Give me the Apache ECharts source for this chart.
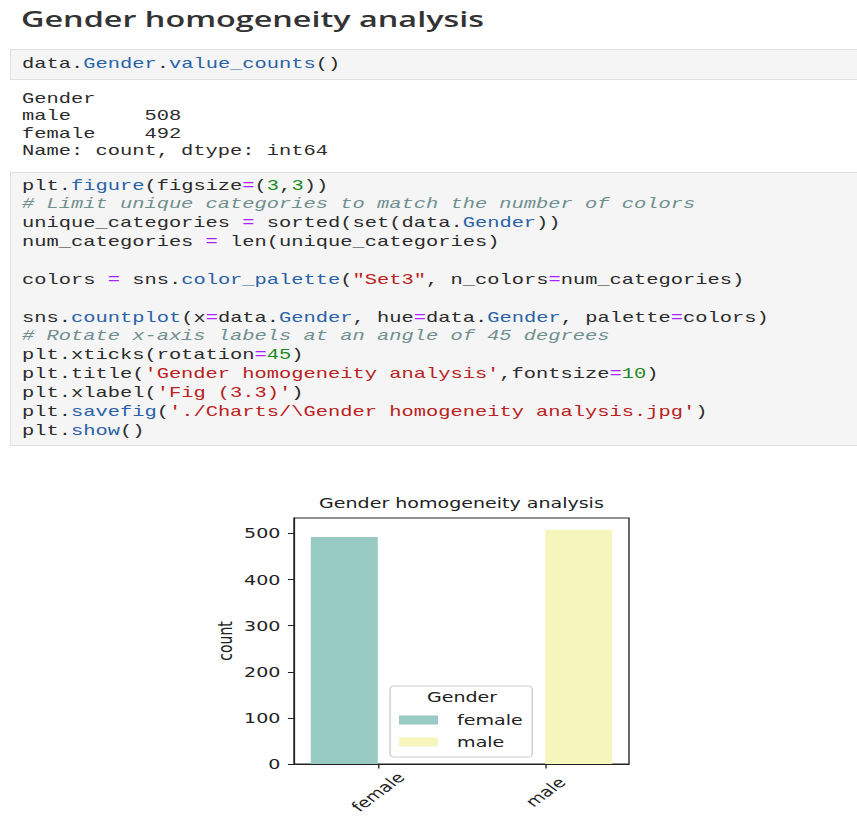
<!DOCTYPE html>
<html lang="en">
<head>
<meta charset="UTF-8">
<title>Gender homogeneity analysis</title>
<script src="https://cdn.jsdelivr.net/npm/echarts@6.0.0/dist/echarts.min.js"></script>
<style>
    html, body { margin: 0; padding: 0; background: #fff; }
    body { width: 857px; height: 816px; overflow: hidden; position: relative; }
    h2 { position: absolute; left: 21px; top: 9px; margin: 0; font: 600 21px/21px "Open Sans", sans-serif; color: #333; transform-origin: 0 0; white-space: nowrap; }
    .cell { position: absolute; left: 10px; width: 860px; background: #f5f5f5; border: 1px solid #e0e0e0; box-sizing: border-box; }
    .mono { position: absolute; left: 22px; margin: 0; font-family: "Liberation Mono", monospace; font-size: 15px; color: #2b2b2b; transform-origin: 0 0; }
    .mono .ln { white-space: pre; }
    .b1 .ln { height: 20px; line-height: 20px; }
    .b2 .ln { height: 17.5px; line-height: 17.5px; }
    .b3 .ln { height: 18.85px; line-height: 18.85px; }
    .p { color: #2a62a8; }
    .o { color: #aa22ff; }
    .n { color: #1d8a1d; }
    .s { color: #ba2121; }
    .c { color: #70908f; font-style: italic; }
    #chartmain { position: absolute; left: 0; top: 460px; width: 630px; height: 356px; transform-origin: 0 0; transform: scaleX(1.36); }
</style>
</head>
<body>
<h2>Gender homogeneity analysis</h2>

<div class="cell" style="top:49px;height:31px"></div>
<div class="mono b1" style="top:55px">
    <div class="ln">data.<span class="p">Gender</span>.<span class="p">value_counts</span>()</div>
</div>

<div class="mono b2" style="top:90.75px">
    <div class="ln">Gender</div>
    <div class="ln">male      508</div>
    <div class="ln">female    492</div>
    <div class="ln">Name: count, dtype: int64</div>
</div>

<div class="cell" style="top:172px;height:274px"></div>
<div class="mono b3" style="top:177.6px">
    <div class="ln">plt.<span class="p">figure</span>(figsize<span class="o">=</span>(<span class="n">3</span>,<span class="n">3</span>))</div>
    <div class="ln"><span class="c"># Limit unique categories to match the number of colors</span></div>
    <div class="ln">unique_categories <span class="o">=</span> sorted(set(data.<span class="p">Gender</span>))</div>
    <div class="ln">num_categories <span class="o">=</span> len(unique_categories)</div>
    <div class="ln"></div>
    <div class="ln">colors <span class="o">=</span> sns.<span class="p">color_palette</span>(<span class="s">"Set3"</span>, n_colors<span class="o">=</span>num_categories)</div>
    <div class="ln"></div>
    <div class="ln">sns.<span class="p">countplot</span>(x<span class="o">=</span>data.<span class="p">Gender</span>, hue<span class="o">=</span>data.<span class="p">Gender</span>, palette<span class="o">=</span>colors)</div>
    <div class="ln"><span class="c"># Rotate x-axis labels at an angle of 45 degrees</span></div>
    <div class="ln">plt.xticks(rotation<span class="o">=</span><span class="n">45</span>)</div>
    <div class="ln">plt.title(<span class="s">'Gender homogeneity analysis'</span>,fontsize<span class="o">=</span><span class="n">10</span>)</div>
    <div class="ln">plt.xlabel(<span class="s">'Fig (3.3)'</span>)</div>
    <div class="ln">plt.<span class="p">savefig</span>(<span class="s">'./Charts/\Gender homogeneity analysis.jpg'</span>)</div>
    <div class="ln">plt.<span class="p">show</span>()</div>
</div>

<div id="chartmain"></div>

<script>
    // stretch the text the same way the screenshot is stretched
    var ctx = document.createElement('canvas').getContext('2d');
    ctx.font = '15px "Liberation Mono"';
    var cw = ctx.measureText('0').width;
    document.querySelectorAll('.mono').forEach(function (el) {
        el.style.transform = 'scaleX(' + (12.24 / cw) + ')';
    });
    var h = document.querySelector('h2');
    h.style.transform = 'scaleX(' + (463 / h.getBoundingClientRect().width) + ')';

    // data
    var categories = ['female', 'male'];
    var femaleCounts = [492, '-'];
    var maleCounts = ['-', 508];
    var yTicks = [0, 100, 200, 300, 400, 500];
    var yMax = 533.4;
    var colors = ['#96cac2', '#f6f6bc'];

    var font = 'DejaVu Sans';
    var ink = '#222';
    var txt = { fontFamily: font, fontSize: 14, fontWeight: 'normal', color: ink };

    var option = {
        animation: false,
        title: [
            { text: 'Gender homogeneity analysis', left: 339.3, top: 36, textAlign: 'center', padding: 0, textStyle: txt },
            { text: 'Gender', left: 339.7, top: 230, textAlign: 'center', padding: 0, textStyle: txt }
        ],
        legend: {
            orient: 'vertical',
            left: 286.8,
            top: 226,
            padding: [26, 7, 7, 6.6],
            itemWidth: 28.7,
            itemHeight: 9,
            itemGap: 6,
            icon: 'rect',
            borderColor: '#cccccc',
            borderWidth: 1,
            borderRadius: 3,
            backgroundColor: 'rgba(255,255,255,0.8)',
            textStyle: { fontFamily: font, fontSize: 14, color: ink, lineHeight: 16, padding: [0, 0, 0, 9] },
            data: categories
        },
        grid: {
            left: 216.2, right: 167.5, top: 58, bottom: 52,
            show: true, borderColor: ink, borderWidth: 1,
            outerBoundsMode: 'none'
        },
        xAxis: {
            type: 'category',
            data: categories,
            axisLine: { show: true, lineStyle: { color: ink, width: 1 } },
            axisTick: { show: true, alignWithLabel: true, length: 4.5, lineStyle: { color: ink } },
            axisLabel: { rotate: 45, align: 'center', verticalAlign: 'middle', margin: 28, interval: 0,
                hideOverlap: false, fontFamily: font, fontSize: 14, color: ink },
            splitLine: { show: false }
        },
        yAxis: {
            type: 'value',
            min: 0,
            max: yMax,
            interval: 100,
            name: 'count',
            nameLocation: 'middle',
            nameRotate: 90,
            nameGap: 44,
            nameTextStyle: txt,
            axisLine: { show: true, lineStyle: { color: ink, width: 1 } },
            axisTick: { show: true, length: 4.5, customValues: yTicks, lineStyle: { color: ink } },
            axisLabel: { customValues: yTicks, margin: 10, fontFamily: font, fontSize: 14, color: ink },
            splitLine: { show: false }
        },
        series: [
            { name: 'female', type: 'bar', data: femaleCounts, itemStyle: { color: colors[0] },
              barGap: '0%', barCategoryGap: '20%' },
            { name: 'male', type: 'bar', data: maleCounts, itemStyle: { color: colors[1] },
              barGap: '0%', barCategoryGap: '20%' }
        ]
    };

    var myChart = echarts.init(document.getElementById('chartmain'), null, { renderer: 'svg' });
    myChart.setOption(option);
</script>
</body>
</html>
